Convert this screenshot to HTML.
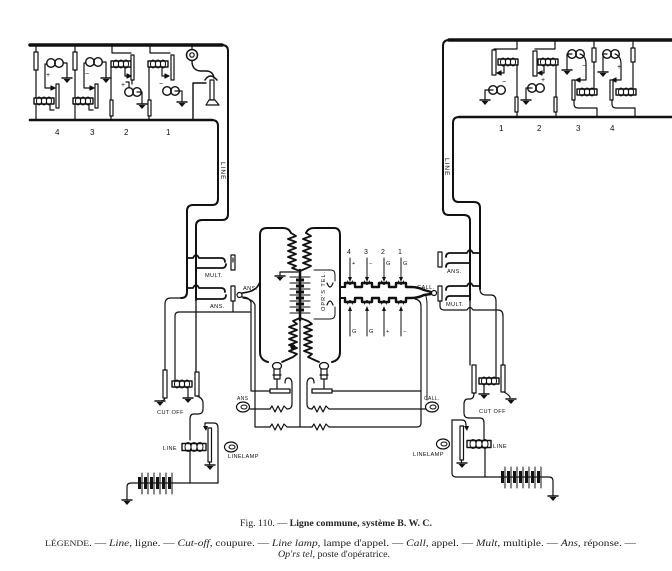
<!DOCTYPE html>
<html><head><meta charset="utf-8">
<style>
html,body{margin:0;padding:0;background:#fff;}
svg{display:block}
.s{font-family:"Liberation Sans",sans-serif;font-size:5.6px;fill:#111;stroke:none;letter-spacing:0.4px}
.n{font-family:"Liberation Sans",sans-serif;font-size:8px;fill:#111;stroke:none}
.k{font-family:"Liberation Sans",sans-serif;font-size:7px;fill:#111;stroke:none}
.c{font-family:"Liberation Serif",serif;fill:#222;stroke:none}
</style></head>
<body>
<svg width="672" height="571" viewBox="0 0 672 571" xmlns="http://www.w3.org/2000/svg">
<defs>
<g id="gnd"><path d="M-5,0 H5" stroke-width="1.4"/><path d="M-3.5,1 L3.5,1 L0,5 Z" fill="#111" stroke="none"/></g>
<g id="bell"><circle cx="-4" cy="0" r="4.3" stroke-width="1.4"/><circle cx="4" cy="0" r="4.3" stroke-width="1.4"/></g>
<g id="coil"><rect x="-10" y="-3" width="20" height="6" fill="#fff" stroke-width="1.4"/><ellipse cx="-5" cy="0" rx="2.5" ry="4" stroke-width="1"/><ellipse cx="0" cy="0" rx="2.5" ry="4" stroke-width="1"/><ellipse cx="5" cy="0" rx="2.5" ry="4" stroke-width="1"/></g>
<g id="coilw"><rect x="-12" y="-3.5" width="24" height="7" fill="#fff" stroke-width="1.4"/><ellipse cx="-6" cy="0" rx="3" ry="4.5" stroke-width="1"/><ellipse cx="0" cy="0" rx="3" ry="4.5" stroke-width="1"/><ellipse cx="6" cy="0" rx="3" ry="4.5" stroke-width="1"/></g>
<g id="lamp"><ellipse cx="0" cy="0" rx="6.5" ry="5" fill="#fff" stroke-width="1.2"/><ellipse cx="1" cy="0" rx="3" ry="2" stroke-width="1"/></g>
</defs>
<rect width="672" height="571" fill="#fff"/>
<g fill="none" stroke="#111" stroke-linecap="round" stroke-linejoin="round" stroke-width="1.2">

<!-- ===== TOP LEFT PANEL ===== -->
<path d="M30,45 H222" stroke-width="3.5"/>
<path d="M222,45 Q228,45 228,51 V214 Q228,220 222,220 H202 Q196,220 196,226 V300" stroke-width="2"/>
<path d="M196,300 V372" stroke-width="1.3"/>
<path d="M30,120 H212" stroke-width="2.6"/>
<path d="M212,120 Q218,120 218,126 V199 Q218,205 212,205 H193 Q187,205 187,211 V292 Q187,298 181,298" stroke-width="2"/>
<path d="M181,298 H171 Q165,298 165,304 V370" stroke-width="1.2"/>

<!-- set 4 -->
<rect x="34" y="52" width="4" height="18" fill="#fff"/>
<path d="M36,45 V52 M36,70 V98"/>
<use href="#bell" x="55" y="63"/>
<path d="M47,64 H45 V88 H52"/><path d="M51,86 L55,88 L51,90 Z" fill="#111"/>
<path d="M63,63 H67 V78"/><use href="#gnd" x="67" y="78"/>
<rect x="56" y="84" width="3" height="24" fill="#fff"/>
<use href="#coil" x="44" y="101"/>
<path d="M36,104 V120 M50,104 V110 H54"/>
<!-- set 3 -->
<rect x="73" y="52" width="4" height="18" fill="#fff"/>
<path d="M75,45 V52 M75,70 V98"/>
<use href="#bell" x="94" y="62"/>
<path d="M86,63 H84 V88 H91"/><path d="M90,86 L94,88 L90,90 Z" fill="#111"/>
<path d="M102,62 H106 V78"/><use href="#gnd" x="106" y="78"/>
<rect x="95" y="84" width="3" height="24" fill="#fff"/>
<use href="#coil" x="83" y="101"/>
<path d="M75,104 V120 M89,104 V110 H93"/>
<!-- set 2 -->
<path d="M112,45 V53 H131"/>
<use href="#coil" x="121" y="64"/>
<rect x="131" y="55" width="3" height="25" fill="#fff"/>
<path d="M125,67 V76 H128"/><path d="M127,74 L131,76 L127,78 Z" fill="#111"/>
<use href="#bell" x="133" y="92"/>
<path d="M129,87 V82 H126"/>
<path d="M137,92 H142 V104"/><use href="#gnd" x="142" y="104"/>
<rect x="110" y="100" width="3" height="16" fill="#fff"/>
<path d="M111,67 V100 M111,116 V120"/>
<path d="M132,80 V84"/>
<!-- set 1 -->
<path d="M150,45 V53 H170"/>
<use href="#coil" x="158" y="64"/>
<rect x="171" y="55" width="3" height="25" fill="#fff"/>
<path d="M162,67 V76 H166"/><path d="M165,74 L169,76 L165,78 Z" fill="#111"/>
<use href="#bell" x="171" y="91"/>
<path d="M175,91 H182 V102"/><use href="#gnd" x="182" y="102"/>
<rect x="148" y="100" width="3" height="16" fill="#fff"/>
<path d="M149,67 V100 M149,116 V120"/>
<!-- telephone -->
<path d="M192,45 V49"/>
<circle cx="192" cy="55" r="5.5" stroke-width="1.5"/><circle cx="192" cy="55" r="2.2"/>
<path d="M192,61 Q192,70 200,71 H206 Q213,71 214,78" stroke-width="1.4"/>
<path d="M205,80 Q210,72 217,80" stroke-width="1.6"/>
<rect x="210" y="80" width="4" height="20" fill="#fff"/>
<path d="M206,105 L209,100 H215 L219,105 Z" fill="#fff"/>
<path d="M193,120 V83 H206" stroke-width="1.4"/>

<!-- ===== TOP RIGHT PANEL ===== -->
<path d="M672,40 H449" stroke-width="3.5"/>
<path d="M449,40 Q443,40 443,46 V209 Q443,215 449,215 H464 Q470,215 470,221 V300" stroke-width="2"/>
<path d="M470,300 V365" stroke-width="1.3"/>
<path d="M672,117 H459" stroke-width="2.6"/>
<path d="M459,117 Q453,117 453,123 V196 Q453,202 459,202 H474 Q480,202 480,208 V289" stroke-width="2"/>
<path d="M480,289 Q480,295 486,295 H491 Q496,295 496,301 V378" stroke-width="1.2"/>

<!-- set 1 -->
<path d="M517,40 V49 H494"/>
<rect x="492" y="50" width="4" height="25" fill="#fff"/>
<use href="#coil" x="508" y="62"/>
<path d="M504,65 V73 H500"/><path d="M501,71 L497,73 L501,75 Z" fill="#111"/>
<use href="#bell" x="497" y="90"/>
<path d="M493,90 H485 V100"/><use href="#gnd" x="485" y="100"/>
<path d="M517,65 V97"/>
<rect x="515" y="97" width="3" height="15" fill="#fff"/>
<path d="M517,112 V117"/>
<!-- set 2 -->
<path d="M555,40 V49 H535"/>
<rect x="533" y="51" width="4" height="25" fill="#fff"/>
<use href="#coil" x="548" y="62"/>
<path d="M544,65 V73 H541"/><path d="M542,71 L538,73 L542,75 Z" fill="#111"/>
<use href="#bell" x="536" y="88"/>
<path d="M532,88 H526 V100"/><use href="#gnd" x="526" y="100"/>
<path d="M556,65 V97"/>
<rect x="554" y="97" width="3" height="15" fill="#fff"/>
<path d="M556,112 V117"/>
<!-- set 3 -->
<path d="M594,40 V48"/>
<rect x="592" y="48" width="4" height="14" fill="#fff"/>
<path d="M594,62 V89"/>
<use href="#bell" x="576" y="54"/>
<path d="M572,54 H567 V70"/><use href="#gnd" x="567" y="70"/>
<path d="M580,54 Q586,56 586,64 V80 H579"/><path d="M580,78 L576,80 L580,82 Z" fill="#111"/>
<rect x="572" y="80" width="3" height="20" fill="#fff"/>
<use href="#coil" x="587" y="92"/>
<path d="M574,100 V104 Q574,108 578,108 H597 V117"/>
<!-- set 4 -->
<path d="M633,40 V48"/>
<rect x="631" y="48" width="4" height="14" fill="#fff"/>
<path d="M633,62 V89"/>
<use href="#bell" x="611" y="54"/>
<path d="M607,54 H603 V72"/><use href="#gnd" x="603" y="72"/>
<path d="M615,54 Q621,56 621,64 V80 H615"/><path d="M616,78 L612,80 L616,82 Z" fill="#111"/>
<rect x="610" y="80" width="3" height="20" fill="#fff"/>
<use href="#coil" x="626" y="92"/>
<path d="M612,100 V104 Q612,108 616,108 H635 V117"/>

<!-- ===== LEFT JACKS ===== -->
<path d="M187,258 H193 Q196,252 199,258 H221 Q225,258 225,262" stroke-width="1.8"/>
<path d="M196,268 H222 Q226,268 226,264" stroke-width="1.8"/>
<rect x="231" y="255" width="4" height="15" fill="#fff"/>
<path d="M233,258 V262"/>
<path d="M187,288 H193 Q196,282 199,288 H221 Q225,288 225,292" stroke-width="1.8"/>
<path d="M196,299 H222 Q226,299 226,295" stroke-width="1.8"/>
<rect x="231" y="286" width="4" height="15" fill="#fff"/>
<path d="M233,301 V312"/>
<circle cx="239.5" cy="295" r="2.5"/>
<path d="M175,383 V316 Q175,312 179,312 H250"/>

<!-- cords left -->
<path d="M242,293 Q251,292 255,289 Q259,286 260,281" stroke-width="1.6"/>
<path d="M242,297 Q249,297 251,302 V391 H270"/>
<path d="M243,298 Q253,299 255,305 V427 H270"/>
<!-- left outer loop -->
<path d="M268,362 Q260,360 260,352 V235 Q260,228 267,228 H283 Q289,228 291,233" stroke-width="2"/>
<!-- right outer loop -->
<path d="M306,233 Q308,228 314,228 H334 Q340,228 340,235 V352 Q340,360 332,362" stroke-width="2"/>
<path d="M340,287 H345 M340,298 H345" stroke-width="2"/>

<!-- coils -->
<path d="M291,233 L296,236 L288,239 L296,242 L288,245 L296,248 L288,251 L296,254 L288,257 L296,260 L288,263 L296,266 L292,268 L300,271" stroke-width="1.8"/>
<path d="M306,233 L311,236 L303,239 L311,242 L303,245 L311,248 L303,251 L311,254 L303,257 L311,260 L303,263 L311,266 L307,268 L300,271" stroke-width="1.8"/>
<path d="M300,270 V320" stroke-width="2.5"/>
<g stroke-width="1">
<path d="M290,277 H310 M290,283 H310 M290,289 H310 M290,295 H310 M290,301 H310 M290,307 H310 M290,313 H310"/>
</g>
<g fill="#111" stroke="none">
<rect x="296" y="278.5" width="8" height="3"/><rect x="296" y="284.5" width="8" height="3"/><rect x="296" y="290.5" width="8" height="3"/><rect x="296" y="296.5" width="8" height="3"/><rect x="296" y="302.5" width="8" height="3"/><rect x="296" y="308.5" width="8" height="3"/>
</g>
<path d="M298,272 H280 V276"/><use href="#gnd" x="280" y="276"/>
<path d="M300,318 L293,321 L297,324 L289,327 L297,330 L289,333 L297,336 L289,339 L297,342 L289,345 L297,348 L289,351 L297,354 L293,357 L282,362" stroke-width="1.8"/>
<circle cx="293" cy="347" r="2" fill="#111"/>
<path d="M300,318 L308,321 L312,324 L304,327 L312,330 L304,333 L312,336 L304,339 L312,342 L304,345 L312,348 L304,351 L312,354 L308,357 L319,362" stroke-width="1.8"/>
<path d="M300,320 V427"/>

<!-- OPR'S TEL brackets -->
<path d="M314,270 H331 Q335,270 335,275 V281" stroke-width="1"/>
<path d="M327,283 Q330,291 333,283" stroke-width="1.2"/>
<path d="M327,305 Q330,297 333,305" stroke-width="1.2"/>
<path d="M335,307 V314 Q335,319 330,319 H314" stroke-width="1"/>

<!-- relays lower -->
<ellipse cx="277" cy="366" rx="4.5" ry="3.5" stroke-width="1.3"/>
<rect x="274" y="369" width="6" height="10" fill="#fff"/>
<path d="M277,379 V388 M273,375 H281"/>
<rect x="270" y="389" width="20" height="4" fill="#fff" stroke-width="1.3"/>
<ellipse cx="324" cy="366" rx="4.5" ry="3.5" stroke-width="1.3"/>
<rect x="321" y="369" width="6" height="10" fill="#fff"/>
<path d="M324,379 V388 M320,375 H328"/>
<rect x="312" y="389" width="20" height="4" fill="#fff" stroke-width="1.3"/>
<path d="M287,409 Q292,409 292,404 V384 Q292,378 288,378 Q285,378 285,383"/>
<path d="M312,409 Q307,409 307,404 V384 Q307,378 311,378 Q314,378 314,383"/>
<!-- resistors -->
<path d="M270,409 L272,406 L275,412 L278,406 L281,412 L284,406 L287,409"/>
<path d="M312,409 L314,406 L317,412 L320,406 L323,412 L326,406 L329,409 H426"/>
<path d="M270,427 L272,424 L275,430 L278,424 L281,430 L284,424 L287,427 H312"/>
<path d="M312,427 L314,424 L317,430 L320,424 L323,430 L326,424 L329,427 H417 Q421,427 421,423 V306 Q421,300 415,299"/>
<path d="M250,409 H270"/>
<path d="M332,391 H421"/>
<use href="#lamp" x="243" y="407"/>
<use href="#lamp" x="432" y="407"/>
<path d="M426,296 Q427,300 427,304 V400" stroke-width="1"/>

<!-- keys -->
<path d="M345,287 V283 H355 V287 H362 V283 H372 V287 H379 V283 H389 V287 H396 V283 H406 V287 H411 Q418,287 424,290 L431,292" stroke-width="2.4"/>
<path d="M345,298 V302 H355 V298 H362 V302 H372 V298 H379 V302 H389 V298 H396 V302 H406 V298 H411 Q418,298 424,295 L431,294" stroke-width="2.4"/>
<g stroke-width="1">
<path d="M347.5,281 Q350,288 352.5,281 M364.5,281 Q367,288 369.5,281 M381.5,281 Q384,288 386.5,281 M398.5,281 Q401,288 403.5,281"/>
<path d="M347.5,304 Q350,297 352.5,304 M364.5,304 Q367,297 369.5,304 M381.5,304 Q384,297 386.5,304 M398.5,304 Q401,297 403.5,304"/>
<path d="M350,258 V279 M367,258 V279 M384,258 V279 M401,258 V279"/>
<path d="M350,309 V336 M367,309 V336 M384,309 V336 M401,309 V336"/>
</g>
<g fill="#111" stroke="none">
<path d="M348,277 L352,277 L350,282 Z M365,277 L369,277 L367,282 Z M382,277 L386,277 L384,282 Z M399,277 L403,277 L401,282 Z"/>
<path d="M348,311 L352,311 L350,306 Z M365,311 L369,311 L367,306 Z M382,311 L386,311 L384,306 Z M399,311 L403,311 L401,306 Z"/>
</g>
<circle cx="434" cy="293" r="2.5"/>

<!-- ===== RIGHT JACKS ===== -->
<rect x="438" y="252" width="4" height="15" fill="#fff"/>
<rect x="438" y="286" width="4" height="15" fill="#fff"/>
<path d="M446,257 Q446,253 450,253 H467 Q470,247 473,253 H480" stroke-width="1.8"/>
<path d="M446,267 Q446,263 450,263 H470" stroke-width="1.8"/>
<path d="M446,290 Q446,286 450,286 H467 Q470,280 473,286 H480" stroke-width="1.8"/>
<path d="M446,300 Q446,296 450,296 H470" stroke-width="1.8"/>
<path d="M440,301 V306 Q440,310 444,310 H467 Q470,305 473,310 H498 Q503,310 503,316 V365"/>

<!-- ===== RIGHT BOTTOM ===== -->
<rect x="472" y="365" width="4" height="28" fill="#fff"/>
<rect x="501" y="365" width="4" height="27" fill="#fff"/>
<use href="#coil" x="489" y="381"/>
<path d="M484,384 V394"/><use href="#gnd" x="484" y="394"/>
<path d="M504,392 Q508,394 510,397 V398"/><use href="#gnd" x="511" y="399"/>
<path d="M474,393 Q474,399 470,399 H468 Q464,399 464,404 V413 Q464,418 469,418 H480 Q484,418 484,423 V440"/>
<use href="#coilw" x="479" y="444"/>
<rect x="460" y="426" width="3.5" height="34" fill="#fff"/>
<path d="M461.5,460 V463"/><use href="#gnd" x="462" y="463"/>
<path d="M452,420 H462 Q466,420 466,425 V428"/><path d="M464,426 L467,431 L469,426 Z" fill="#111" stroke="none"/>
<path d="M452,420 V473 Q452,477 456,477 H500"/>
<use href="#lamp" x="443" y="444"/>
<path d="M485,448 V477"/>
<path d="M500,477 H541 M541,477 H549 Q553,477 553,481 V496"/>
<use href="#gnd" x="553" y="496"/>
<g fill="#111" stroke="none">
<rect x="501" y="471" width="3" height="12"/><rect x="507" y="471" width="3" height="12"/><rect x="513" y="471" width="3" height="12"/><rect x="519" y="471" width="3" height="12"/><rect x="525" y="471" width="3" height="12"/><rect x="531" y="471" width="3" height="12"/><rect x="537" y="471" width="3" height="12"/>
</g>
<path d="M505,467 V488 M511,467 V488 M517,467 V488 M523,467 V488 M529,467 V488 M535,467 V488 M541,467 V488" stroke-width="1"/>

<!-- ===== LEFT BOTTOM ===== -->
<rect x="163" y="370" width="4" height="28" fill="#fff"/>
<rect x="195" y="372" width="4" height="24" fill="#fff"/>
<use href="#coil" x="182" y="384"/>
<path d="M188,387 V398"/><use href="#gnd" x="188" y="398"/>
<path d="M165,398 Q164,401 161,401"/><use href="#gnd" x="160" y="401"/>
<path d="M197,396 Q203,398 203,403 V409 Q203,414 198,414 H194 Q190,414 190,419 V440"/>
<use href="#coilw" x="194" y="447"/>
<rect x="208" y="428" width="3.5" height="34" fill="#fff"/>
<path d="M209.5,462 V465"/><use href="#gnd" x="210" y="465"/>
<path d="M205,423 H214 Q218,423 218,428 V483"/>
<path d="M205,423 V428"/><path d="M203,426 L206,431 L208,426 Z" fill="#111" stroke="none"/>
<use href="#lamp" x="231" y="447"/>
<path d="M190,451 V483"/>
<path d="M218,483 H137 M137,483 H131 Q127,483 127,487 V500"/>
<use href="#gnd" x="127" y="500"/>
<g fill="#111" stroke="none">
<rect x="138" y="477" width="3" height="12"/><rect x="144" y="477" width="3" height="12"/><rect x="150" y="477" width="3" height="12"/><rect x="156" y="477" width="3" height="12"/><rect x="162" y="477" width="3" height="12"/><rect x="168" y="477" width="3" height="12"/>
</g>
<path d="M142,473 V494 M148,473 V494 M154,473 V494 M160,473 V494 M166,473 V494 M172,473 V494" stroke-width="1"/>
</g>

<!-- ===== LABELS ===== -->
<text class="n" x="55" y="135">4</text>
<text class="n" x="90" y="135">3</text>
<text class="n" x="124" y="135">2</text>
<text class="n" x="166" y="135">1</text>
<text class="n" x="499" y="131">1</text>
<text class="n" x="537" y="131">2</text>
<text class="n" x="576" y="131">3</text>
<text class="n" x="610" y="131">4</text>
<text class="k" x="46" y="77">+</text>
<text class="k" x="85" y="76">−</text>
<text class="k" x="121" y="87">+</text>
<text class="k" x="159" y="86">−</text>
<text class="k" x="502" y="84">−</text>
<text class="k" x="541" y="82">+</text>
<text class="k" x="582" y="68">−</text>
<text class="k" x="617" y="69">+</text>

<text class="s" transform="translate(221,162) rotate(90)" style="font-size:6.5px;letter-spacing:1px">LINE</text>
<text class="s" transform="translate(445,158) rotate(90)" style="font-size:6.5px;letter-spacing:1px">LINE</text>
<text class="s" transform="translate(325,311) rotate(-90)" style="letter-spacing:1px">OPR'S TEL.</text>

<text class="s" x="205" y="277">MULT.</text>
<text class="s" x="210" y="308">ANS.</text>
<text class="s" x="243" y="290">ANS.</text>
<text class="s" x="417" y="289">CALL.</text>
<text class="s" x="447" y="273">ANS.</text>
<text class="s" x="446" y="306">MULT.</text>
<text class="s" x="237" y="400" style="font-size:5px">ANS</text>
<text class="s" x="424" y="400" style="font-size:5px">CALL.</text>
<text class="s" x="157" y="414">CUT OFF</text>
<text class="s" x="479" y="413">CUT OFF</text>
<text class="s" x="163" y="450">LINE</text>
<text class="s" x="493" y="448">LINE</text>
<text class="s" x="228" y="458">LINELAMP</text>
<text class="s" x="413" y="456">LINELAMP</text>

<text class="k" x="347" y="254">4</text>
<text class="k" x="364" y="254">3</text>
<text class="k" x="381" y="254">2</text>
<text class="k" x="398" y="254">1</text>
<text class="s" x="352" y="265">+</text>
<text class="s" x="369" y="265">−</text>
<text class="s" x="386" y="265">G</text>
<text class="s" x="403" y="265">G</text>
<text class="s" x="352" y="333">G</text>
<text class="s" x="369" y="333">G</text>
<text class="s" x="386" y="333">+</text>
<text class="s" x="403" y="333">−</text>

<!-- caption -->
<text class="c" x="240" y="526" font-size="9.5" textLength="192" lengthAdjust="spacingAndGlyphs">Fig. 110. — <tspan font-weight="bold">Ligne commune, système B. W. C.</tspan></text>
<text class="c" x="45" y="546" font-size="9.5" textLength="591" lengthAdjust="spacingAndGlyphs"><tspan font-size="8">LÉGENDE</tspan>. — <tspan font-style="italic">Line</tspan>, ligne. — <tspan font-style="italic">Cut-off</tspan>, coupure. — <tspan font-style="italic">Line lamp</tspan>, lampe d'appel. — <tspan font-style="italic">Call</tspan>, appel. — <tspan font-style="italic">Mult</tspan>, multiple. — <tspan font-style="italic">Ans</tspan>, réponse. —</text>
<text class="c" x="278" y="557" font-size="9.5" textLength="112" lengthAdjust="spacingAndGlyphs"><tspan font-style="italic">Op'rs tel</tspan>, poste d'opératrice.</text>
</svg>
</body></html>
